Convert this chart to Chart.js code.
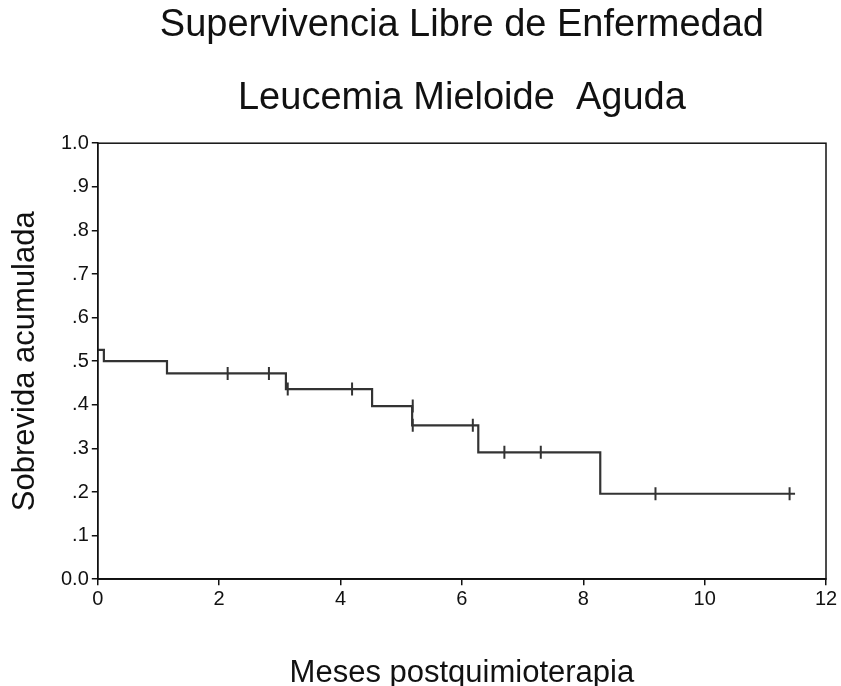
<!DOCTYPE html>
<html>
<head>
<meta charset="utf-8">
<script src="https://cdn.jsdelivr.net/npm/chart.js@4/dist/chart.umd.min.js"></script>
<style>
  html, body { margin: 0; padding: 0; background: #fff; }
  #wrap { width: 841px; height: 686px; }
</style>
</head>
<body>
<div id="wrap"><canvas id="km"></canvas></div>
<script>
// Kaplan-Meier steps (time in months, cumulative survival)
const stepTimes = [0, 0.10, 1.14, 3.10, 4.52, 5.18, 6.27, 8.28, 11.49];
const stepSurv  = [0.526, 0.500, 0.472, 0.436, 0.397, 0.353, 0.291, 0.196, 0.196];

// censored observations
const censorTimes = [2.14, 2.82, 3.13, 4.19, 5.19, 5.19, 6.18, 6.70, 7.30, 9.19, 11.40];
const censorSurv  = [0.472, 0.472, 0.436, 0.436, 0.397, 0.353, 0.353, 0.291, 0.291, 0.196, 0.196];

const xTicks = [0, 2, 4, 6, 8, 10, 12];
const yTickLabels = ['0.0', '.1', '.2', '.3', '.4', '.5', '.6', '.7', '.8', '.9', '1.0'];

const FONT = 'Liberation Sans, Arial, sans-serif';

// box round the plot area (top and right sides)
const frame = {
    id: 'frame',
    afterDraw(chart) {
        const a = chart.chartArea, ctx = chart.ctx;
        ctx.save();
        ctx.strokeStyle = '#111';
        ctx.lineWidth = 1.5;
        ctx.strokeRect(a.left, a.top, a.right - a.left, a.bottom - a.top);
        ctx.restore();
    }
};

new Chart(document.getElementById('km'), {
    type: 'scatter',
    data: {
        datasets: [
            {
                type: 'line',
                data: stepTimes.map((t, i) => ({ x: t, y: stepSurv[i] })),
                stepped: 'before',
                borderColor: '#333',
                borderWidth: 2.2,
                pointRadius: 0,
                fill: false
            },
            {
                data: censorTimes.map((t, i) => ({ x: t, y: censorSurv[i] })),
                pointStyle: 'line',
                rotation: 90,
                pointRadius: 6.5,
                borderColor: '#333',
                borderWidth: 2
            }
        ]
    },
    options: {
        responsive: true,
        maintainAspectRatio: false,
        animation: false,
        layout: { padding: { left: 10, right: 15, top: 0, bottom: 0 } },
        plugins: {
            legend: { display: false },
            tooltip: { enabled: false },
            title: {
                display: true,
                fullSize: false,
                text: 'Supervivencia Libre de Enfermedad',
                color: '#111',
                font: { family: FONT, size: 38, weight: 'normal', lineHeight: 1.2 },
                padding: { top: 3, bottom: 0 }
            },
            subtitle: {
                display: true,
                fullSize: false,
                text: 'Leucemia Mieloide  Aguda',
                color: '#111',
                font: { family: FONT, size: 38, weight: 'normal', lineHeight: 1.2 },
                padding: { top: 27, bottom: 22 }
            }
        },
        scales: {
            x: {
                type: 'linear',
                min: 0,
                max: 12,
                afterBuildTicks: axis => { axis.ticks = xTicks.map(v => ({ value: v })); },
                ticks: { color: '#111', font: { family: FONT, size: 20 }, padding: 2 },
                grid: { drawOnChartArea: false, drawTicks: true, tickLength: 6, color: '#111', lineWidth: 1.5 },
                border: { display: true, color: '#111', width: 1.5 },
                title: {
                    display: true,
                    text: 'Meses postquimioterapia',
                    color: '#111',
                    font: { family: FONT, size: 31, lineHeight: 0.8 },
                    padding: { top: 48, bottom: 0 }
                }
            },
            y: {
                type: 'linear',
                min: 0,
                max: 1,
                ticks: {
                    stepSize: 0.1,
                    color: '#111',
                    font: { family: FONT, size: 20 },
                    padding: 3,
                    callback: (v, i) => yTickLabels[i]
                },
                grid: { drawOnChartArea: false, drawTicks: true, tickLength: 6, color: '#111', lineWidth: 1.5 },
                border: { display: true, color: '#111', width: 1.5 },
                title: {
                    display: true,
                    text: 'Sobrevida acumulada',
                    color: '#111',
                    font: { family: FONT, size: 31, lineHeight: 1.0 },
                    padding: { top: 0, bottom: 17 }
                }
            }
        }
    },
    plugins: [frame]
});
</script>
</body>
</html>
